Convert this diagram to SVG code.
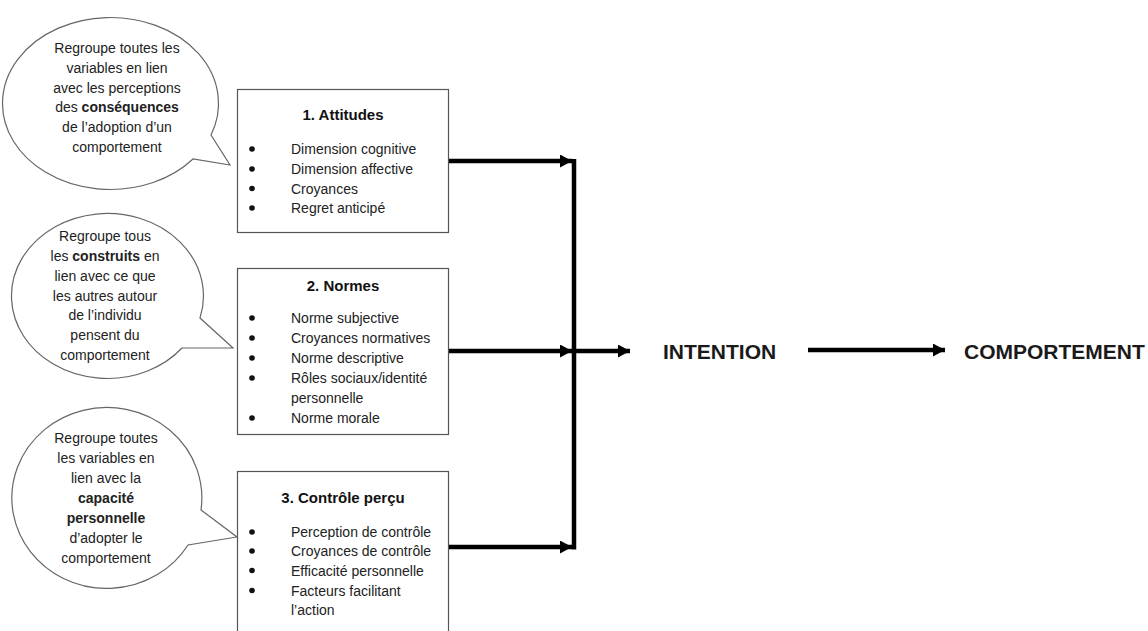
<svg xmlns="http://www.w3.org/2000/svg" width="1148" height="631" viewBox="0 0 1148 631">
<defs>
<style>
.bub{fill:#fff;stroke:#666;stroke-width:1.2}
.box{fill:#fff;stroke:#555;stroke-width:1.2}
.t{font-family:"Liberation Sans",Arial,sans-serif;font-size:14px;fill:#222}
.c{text-anchor:middle}
.b{font-weight:bold}
.ttl{font-family:"Liberation Sans",Arial,sans-serif;font-size:15px;font-weight:bold;fill:#111;text-anchor:middle}
.big{font-family:"Liberation Sans",Arial,sans-serif;font-size:21px;font-weight:bold;fill:#1a1a1a}
.ln{stroke:#000;stroke-width:4.5;fill:none}
.dot{fill:#111}
</style>
<marker id="ah" markerUnits="userSpaceOnUse" markerWidth="13" markerHeight="13" refX="12" refY="6.5" orient="auto">
<path d="M0,0 L12,6.5 L0,13 Z" fill="#000"/>
</marker>
</defs>
<rect width="1148" height="631" fill="#fff"/>

<g id="bubble1">
<path class="bub" d="M211,135 A108,86 0 1 0 193,159 L230,165 Z"/>
<text class="t c" x="117"><tspan x="117" y="53">Regroupe toutes les</tspan><tspan x="117" y="73">variables en lien</tspan><tspan x="117" y="92.5">avec les perceptions</tspan><tspan x="117" y="112">des <tspan class="b">conséquences</tspan></tspan><tspan x="117" y="132">de l’adoption d’un</tspan><tspan x="117" y="152">comportement</tspan></text>
</g>

<g id="bubble2">
<path class="bub" d="M200,318 A96,82.5 0 1 0 182,348 L233,348 Z"/>
<text class="t c" x="105"><tspan x="105" y="241">Regroupe tous</tspan><tspan x="105" y="261">les <tspan class="b">construits</tspan> en</tspan><tspan x="105" y="281">lien avec ce que</tspan><tspan x="105" y="300.5">les autres autour</tspan><tspan x="105" y="320">de l’individu</tspan><tspan x="105" y="340">pensent du</tspan><tspan x="105" y="360">comportement</tspan></text>
</g>

<g id="bubble3">
<path class="bub" d="M201,510 A95,90.5 0 1 0 188,545 L237,537 Z"/>
<text class="t c" x="106"><tspan x="106" y="443">Regroupe toutes</tspan><tspan x="106" y="463">les variables en</tspan><tspan x="106" y="483">lien avec la</tspan><tspan x="106" y="503" class="b">capacité</tspan><tspan x="106" y="523" class="b">personnelle</tspan><tspan x="106" y="543">d’adopter le</tspan><tspan x="106" y="563">comportement</tspan></text>
</g>

<g id="box1">
<rect class="box" x="237.5" y="89.5" width="211" height="143"/>
<text class="ttl" x="343" y="120">1. Attitudes</text>
<circle class="dot" cx="252" cy="149" r="2.8"/>
<circle class="dot" cx="252" cy="169" r="2.8"/>
<circle class="dot" cx="252" cy="188.5" r="2.8"/>
<circle class="dot" cx="252" cy="208" r="2.8"/>
<text class="t" x="291" y="154">Dimension cognitive</text>
<text class="t" x="291" y="174">Dimension affective</text>
<text class="t" x="291" y="193.5">Croyances</text>
<text class="t" x="291" y="213">Regret anticipé</text>
</g>

<g id="box2">
<rect class="box" x="237.5" y="268.5" width="211" height="166"/>
<text class="ttl" x="343" y="291">2. Normes</text>
<circle class="dot" cx="252" cy="318" r="2.8"/>
<circle class="dot" cx="252" cy="338" r="2.8"/>
<circle class="dot" cx="252" cy="358" r="2.8"/>
<circle class="dot" cx="252" cy="378" r="2.8"/>
<circle class="dot" cx="252" cy="418" r="2.8"/>
<text class="t" x="291" y="323">Norme subjective</text>
<text class="t" x="291" y="343">Croyances normatives</text>
<text class="t" x="291" y="363">Norme descriptive</text>
<text class="t" x="291" y="383">Rôles sociaux/identité</text>
<text class="t" x="291" y="403">personnelle</text>
<text class="t" x="291" y="423">Norme morale</text>
</g>

<g id="box3">
<rect class="box" x="237.5" y="471.5" width="211" height="175"/>
<text class="ttl" x="343" y="503">3. Contrôle perçu</text>
<circle class="dot" cx="252" cy="532" r="2.8"/>
<circle class="dot" cx="252" cy="551" r="2.8"/>
<circle class="dot" cx="252" cy="570.5" r="2.8"/>
<circle class="dot" cx="252" cy="590.5" r="2.8"/>
<text class="t" x="291" y="537">Perception de contrôle</text>
<text class="t" x="291" y="556">Croyances de contrôle</text>
<text class="t" x="291" y="575.5">Efficacité personnelle</text>
<text class="t" x="291" y="595.5">Facteurs facilitant</text>
<text class="t" x="291" y="615">l’action</text>
</g>

<g id="intention">
<text class="big" x="663" y="359">INTENTION</text>
</g>
<g id="comportement">
<text class="big" x="964" y="359">COMPORTEMENT</text>
</g>

<g id="connectors">
<line class="ln" x1="449" y1="161" x2="572" y2="161" marker-end="url(#ah)"/>
<line class="ln" x1="449" y1="351" x2="572" y2="351" marker-end="url(#ah)"/>
<line class="ln" x1="449" y1="547" x2="572" y2="547" marker-end="url(#ah)"/>
<line class="ln" x1="574" y1="159" x2="574" y2="549.5"/>
<line class="ln" x1="574" y1="351" x2="630" y2="351" marker-end="url(#ah)"/>
<line class="ln" x1="808" y1="350" x2="945" y2="350" stroke-width="4" marker-end="url(#ah)"/>
</g>
</svg>
